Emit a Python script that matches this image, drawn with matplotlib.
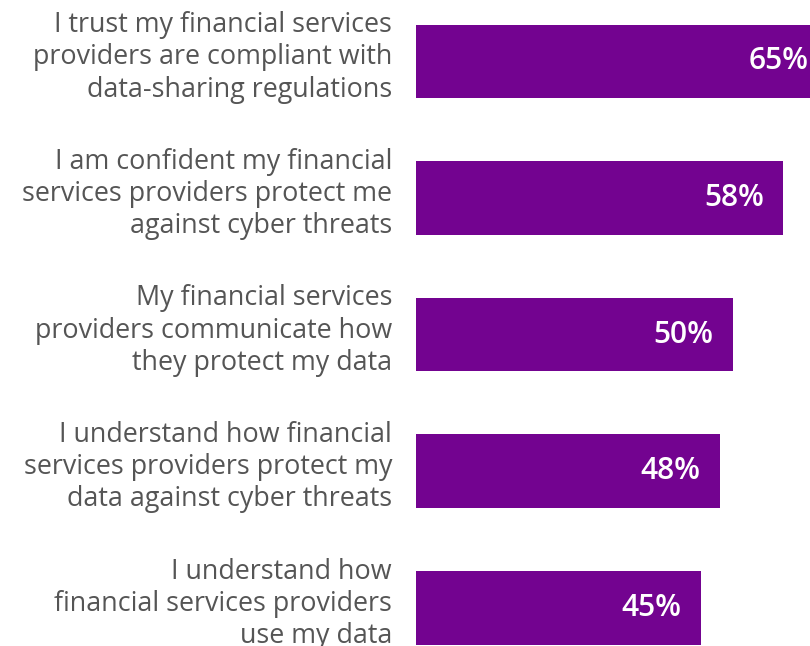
import matplotlib.pyplot as plt

labels = [
    "I trust my financial services\nproviders are compliant with\ndata-sharing regulations",
    "I am confident my financial\nservices providers protect me\nagainst cyber threats",
    "My financial services\nproviders communicate how\nthey protect my data",
    "I understand how financial\nservices providers protect my\ndata against cyber threats",
    "I understand how\nfinancial services providers\nuse my data",
]
values = [65, 58, 50, 48, 45]

purple = "#730390"
text_gray = "#555555"

fig = plt.figure(figsize=(8.1, 6.46), dpi=100)
ax = fig.add_axes([416 / 810, 0, 1 - 416 / 810, 1])

pos = list(range(len(values)))
ax.barh(pos, values, height=0.54, color=purple)
ax.set_xlim(0, (810 - 416) / 6.33)
ax.set_ylim(4.28, -0.45)

for p, v, lab in zip(pos, values, labels):
    ax.text(v - 3, p, f"{v}%", ha="right", va="center", color="white",
            fontsize=21.5, fontweight="semibold", family="Open Sans")
    ax.annotate(lab, xy=(0, p), xytext=(-24, 4), textcoords="offset pixels",
                ha="right", va="center", multialignment="right",
                color=text_gray, fontsize=19.4, family="Open Sans",
                linespacing=1.2, annotation_clip=False)

ax.axis("off")
fig.savefig("out.png", dpi=100)
